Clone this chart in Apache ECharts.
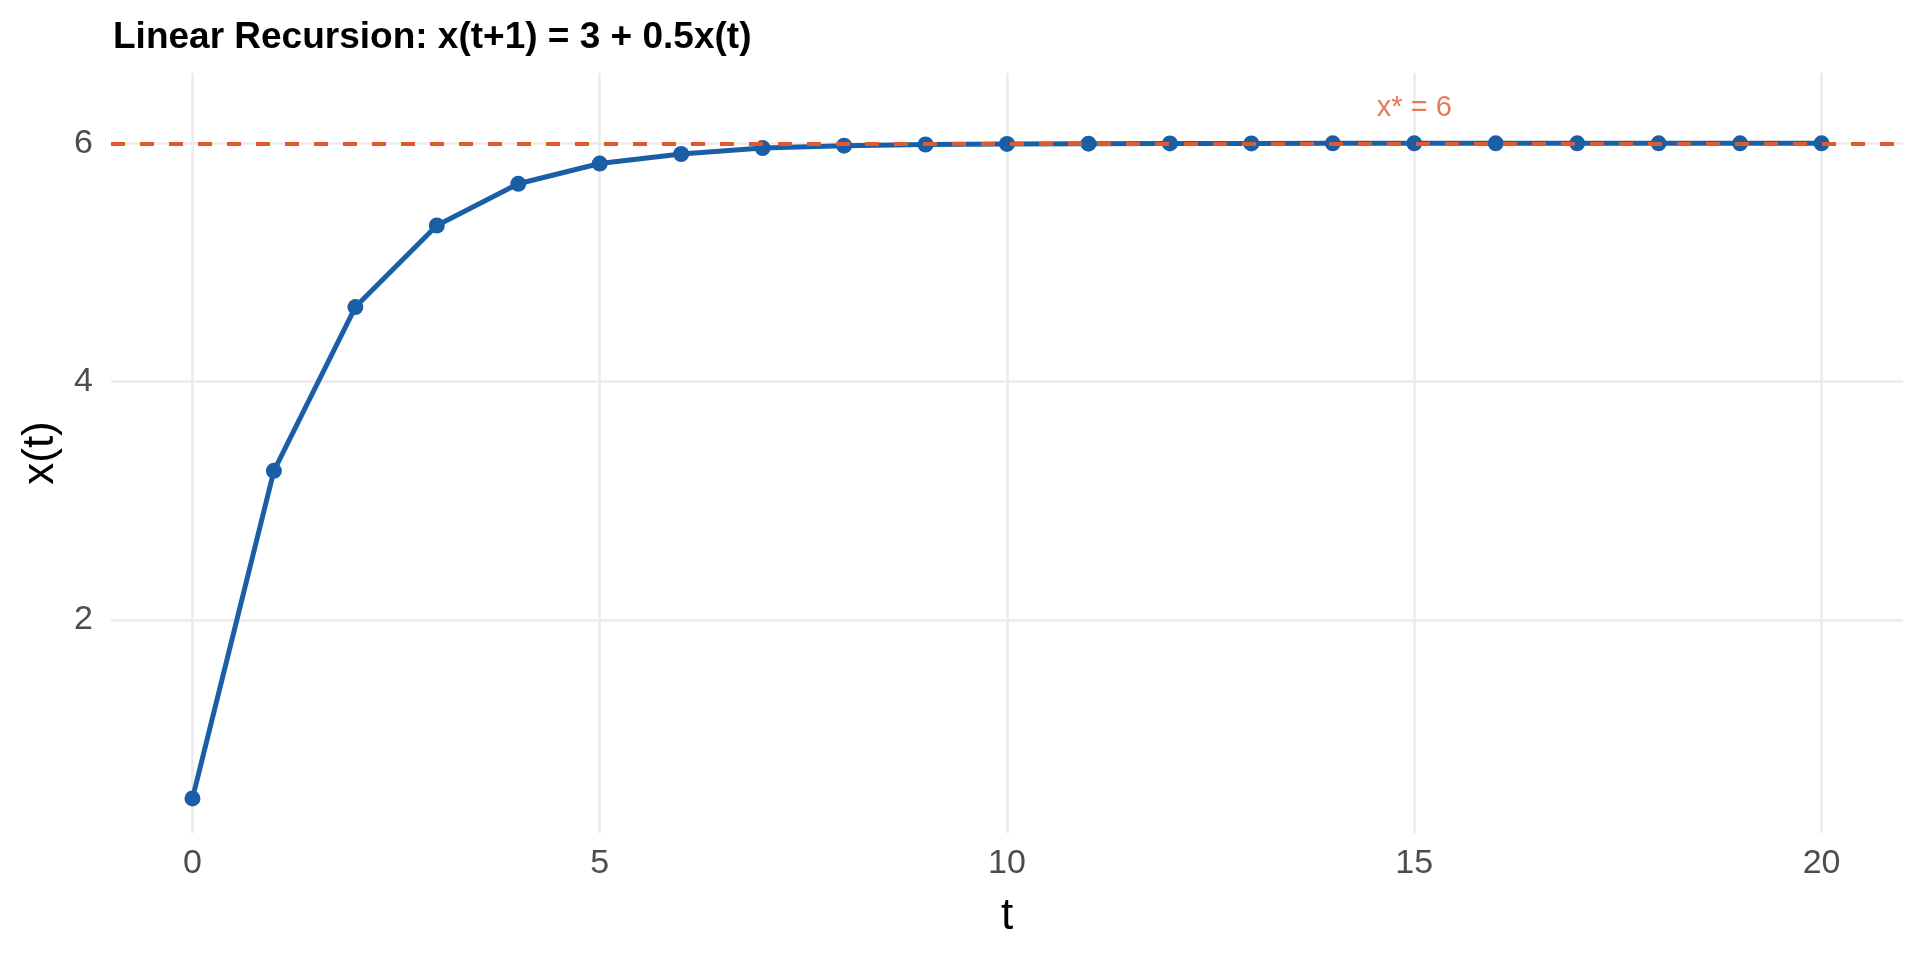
<!DOCTYPE html>
<html>
<head>
<meta charset="utf-8">
<title>Linear Recursion</title>
<script src="https://cdn.jsdelivr.net/npm/echarts@6/dist/echarts.min.js"></script>
<style>
  html, body { margin: 0; padding: 0; background: #ffffff; }
  #chart { width: 1920px; height: 960px; }
</style>
</head>
<body>
<div id="chart"></div>
<script>
// values
const steps = [0, 1, 2, 3, 4, 5, 6, 7, 8, 9, 10, 11, 12, 13, 14, 15, 16, 17, 18, 19, 20];
const xValues = [0.5, 3.25, 4.625, 5.31, 5.66, 5.83, 5.91, 5.96, 5.98, 5.99, 5.995,
  5.997, 5.999, 5.999, 6.0, 6.0, 6.0, 6.0, 6.0, 6.0, 6.0];
const fixedPoint = 6;
const fixedPointLabel = "x* = 6";
const labelAt = [15, 6.3];
const xTicks = [0, 5, 10, 15, 20];
const yTicks = [2, 4, 6];

const BLUE = "#1A5FA5";
const ORANGE = "#E05A2D";
const GRID_COLOR = "#EBEBEB";
const FONT = "Liberation Sans, Helvetica, Arial, sans-serif";

const chart = echarts.init(document.getElementById("chart"), null, { renderer: "canvas" });

chart.setOption({
  animation: false,
  backgroundColor: "#ffffff",
  textStyle: { fontFamily: FONT },
  title: {
    text: "Linear Recursion: x(t+1) = 3 + 0.5x(t)",
    left: 108,
    top: 14,
    textStyle: { fontFamily: FONT, fontSize: 37, fontWeight: "bold", color: "#000000" },
  },
  grid: { left: 111, right: 17, top: 73, bottom: 127, containLabel: false },
  xAxis: {
    type: "value",
    min: -1,
    max: 21,
    name: "t",
    nameLocation: "middle",
    nameGap: 62,
    nameTextStyle: { fontFamily: FONT, fontSize: 44, color: "#000000" },
    axisLine: { show: false },
    axisTick: { show: false, customValues: xTicks },
    axisLabel: { customValues: xTicks, margin: 14, fontSize: 34, color: "#4D4D4D", fontFamily: FONT },
    splitLine: { show: true, lineStyle: { color: GRID_COLOR, width: 2.5 } },
  },
  yAxis: {
    type: "value",
    min: 0.21,
    max: 6.59,
    name: "x(t)",
    nameLocation: "middle",
    nameGap: 47,
    nameTextStyle: { fontFamily: FONT, fontSize: 44, color: "#000000" },
    axisLine: { show: false },
    axisTick: { show: false, customValues: yTicks },
    axisLabel: { customValues: yTicks, margin: 18, fontSize: 34, color: "#4D4D4D", fontFamily: FONT },
    splitLine: { show: true, lineStyle: { color: GRID_COLOR, width: 2.5 } },
  },
  series: [
    {
      name: "x(t)",
      type: "line",
      z: 2,
      data: steps.map((t, i) => [t, xValues[i]]),
      symbol: "circle",
      symbolSize: 16,
      showSymbol: true,
      lineStyle: { color: BLUE, width: 5 },
      itemStyle: { color: BLUE },
    },
    {
      name: "fixed point",
      type: "line",
      z: 5,
      data: [],
      markLine: {
        silent: true,
        symbol: ["none", "none"],
        label: { show: false },
        lineStyle: { color: ORANGE, width: 4, type: [14, 15] },
        data: [{ yAxis: fixedPoint }],
      },
    },
    {
      name: "label",
      type: "scatter",
      z: 6,
      symbolSize: 0,
      data: [labelAt],
      label: {
        show: true,
        position: "inside",
        formatter: fixedPointLabel,
        fontFamily: FONT,
        fontSize: 29,
        color: ORANGE,
      },
    },
  ],
});
</script>
</body>
</html>
